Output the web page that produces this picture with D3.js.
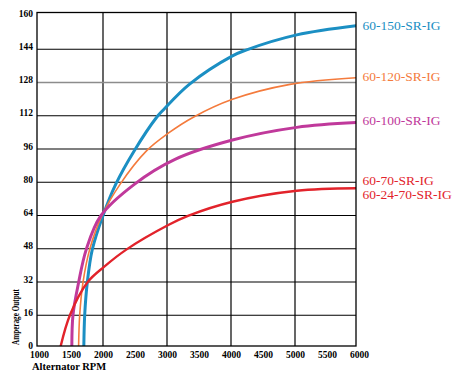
<!DOCTYPE html>
<html>
<head>
<meta charset="utf-8">
<script src="https://cdn.jsdelivr.net/npm/d3@7"></script>
<style>
  body { margin: 0; background: #fff; }
  svg { display: block; }
</style>
</head>
<body>
<svg id="chart" width="462" height="376"></svg>
<script>
// Alternator output curves: amperage vs RPM

var labelNames = ["60-150-SR-IG", "60-120-SR-IG", "60-100-SR-IG", "60-70-SR-IG", "60-24-70-SR-IG"];
var xTicks = [1000, 1500, 2000, 2500, 3000, 3500, 4000, 4500, 5000, 5500, 6000];
var yTicks = [0, 16, 32, 48, 64, 80, 96, 112, 128, 144, 160];
var xGrid = [2000, 3000, 4000, 5000];

// 60-150-SR-IG
var rpm150 = [1700, 1714, 1755, 1833, 1997, 2198, 2489, 2839, 2942, 3348, 4023, 4234, 5027, 5953];
var amp150 = [0, 16.1, 31.9, 47.7, 63.8, 79.0, 95.2, 111.3, 114.8, 127.1, 140.8, 143.6, 150.9, 155.3];
// 60-120-SR-IG
var rpm120 = [1618, 1636, 1688, 1792, 1981, 2266, 2683, 3020, 3411, 4023, 4922, 5953];
var amp120 = [0, 16.1, 31.9, 47.7, 63.8, 79.0, 95.2, 103.6, 111.3, 119.9, 127.1, 130.3];
// 60-100-SR-IG
var rpm100 = [1513, 1531, 1620, 1739, 1964, 2489, 3125, 4023, 5027, 5953];
var amp100 = [0, 16.1, 31.9, 47.7, 63.8, 79.0, 91.0, 100.3, 106.4, 108.7];
// 60-70-SR-IG / 60-24-70-SR-IG
var rpm70 = [1330, 1484, 1758, 2020, 2370, 3020, 3328, 4023, 5027, 5953];
var amp70 = [0, 16.1, 31.9, 39.4, 47.7, 59.4, 63.8, 70.6, 75.9, 77.1];

var series = [
	{rpm: rpm150, amp: amp150, color: "#1b8fc3", width: 3},
	{rpm: rpm120, amp: amp120, color: "#f47b3d", width: 1.6},
	{rpm: rpm100, amp: amp100, color: "#c0399b", width: 3},
	{rpm: rpm70, amp: amp70, color: "#e2232b", width: 2.4}
];
// which curve each label belongs to, and its nudge from the curve end
var labelSeries = [0, 1, 2, 3, 3];
var labelNudge = [0, -1, -2, -8, 6];

var svg = d3.select("#chart");
var box = {left: 37, top: 12.5, right: 356, bottom: 346};

var x = d3.scaleLinear().domain([1000, 6000]).range([39, 359]);
var y = d3.scaleLinear().domain([0, 160]).range([348.5, 16]);

svg.append("clipPath")
	.attr("id", "plot-clip")
	.append("rect")
	.attr("x", box.left)
	.attr("y", box.top)
	.attr("width", box.right - box.left)
	.attr("height", box.bottom - box.top);

var grid = svg.append("g").attr("clip-path", "url(#plot-clip)");

grid.selectAll("line.v")
	.data(xGrid)
	.enter().append("line")
	.attr("class", "v")
	.attr("x1", d => x(d)).attr("x2", d => x(d))
	.attr("y1", box.top).attr("y2", box.bottom)
	.attr("stroke", "#000")
	.attr("stroke-width", 1.2);

grid.selectAll("line.h")
	.data(yTicks.filter(d => d > 0 && d < 160))
	.enter().append("line")
	.attr("class", "h")
	.attr("x1", box.left).attr("x2", box.right)
	.attr("y1", d => y(d)).attr("y2", d => y(d))
	.attr("stroke", d => d == 128 ? "#8c8c8c" : "#000")
	.attr("stroke-width", d => d == 128 ? 1.6 : 1.2);

var line = d3.line()
	.x(d => x(d[0]))
	.y(d => y(d[1]))
	.curve(d3.curveCatmullRom.alpha(0.5));

var curves = svg.append("g").attr("clip-path", "url(#plot-clip)");
curves.selectAll("path")
	.data(series)
	.enter().append("path")
	.attr("d", s => line(s.rpm.map((r, i) => [r, s.amp[i]])))
	.attr("fill", "none")
	.attr("stroke", s => s.color)
	.attr("stroke-width", s => s.width)
	.attr("stroke-linecap", "round");

svg.append("rect")
	.attr("x", box.left)
	.attr("y", box.top)
	.attr("width", box.right - box.left)
	.attr("height", box.bottom - box.top)
	.attr("fill", "none")
	.attr("stroke", "#000")
	.attr("stroke-width", 1.3);

var xAxis = svg.append("g")
	.attr("transform", "translate(0," + box.bottom + ")")
	.call(d3.axisBottom(x).tickValues(xTicks).tickSize(0).tickPadding(5.5).tickFormat(d3.format("d")));
var yAxis = svg.append("g")
	.attr("transform", "translate(" + box.left + ",0)")
	.call(d3.axisLeft(y).tickValues(yTicks).tickSize(0).tickPadding(4));

[xAxis, yAxis].forEach(a => {
	a.select(".domain").remove();
	a.selectAll("text")
		.attr("fill", "#000")
		.style("font-family", "'Liberation Serif', 'Times New Roman', serif")
		.style("font-weight", "bold")
		.style("font-size", "9.5px");
});
// the printed value labels sit a little above their grid lines
yAxis.selectAll("text").attr("dy", "0em");

svg.append("text")
	.attr("x", 32)
	.attr("y", 370)
	.text("Alternator RPM")
	.style("font-family", "'Liberation Serif', 'Times New Roman', serif")
	.style("font-weight", "bold")
	.style("font-size", "10.5px");

svg.append("text")
	.attr("transform", "translate(19,345) rotate(-90)")
	.attr("textLength", 56)
	.attr("lengthAdjust", "spacingAndGlyphs")
	.text("Amperage Output")
	.style("font-family", "'Liberation Serif', 'Times New Roman', serif")
	.style("font-weight", "bold")
	.style("font-size", "9.5px");

svg.append("g")
	.selectAll("text")
	.data(labelNames)
	.enter().append("text")
	.attr("x", 362.5)
	.attr("y", (n, i) => {
		var s = series[labelSeries[i]];
		return y(s.amp[s.amp.length - 1]) + labelNudge[i];
	})
	.attr("dy", "0.35em")
	.attr("fill", (n, i) => series[labelSeries[i]].color)
	.text(n => n)
	.style("font-family", "'Liberation Serif', 'Times New Roman', serif")
	.style("font-size", "13.5px");
</script>
</body>
</html>
